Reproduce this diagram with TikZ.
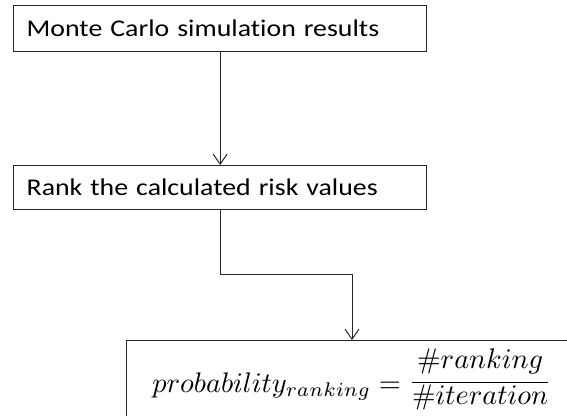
\documentclass[tikz,border=0pt]{standalone}
\usepackage{amsmath}
\usepackage[no-math]{fontspec}
\usepackage{graphicx}
\setmainfont{Carlito}[FakeStretch=1.16, Ligatures=NoCommon]
\usetikzlibrary{arrows.meta}

\tikzset{
  stepbox/.style={draw=black!85, line width=1.3pt, rectangle, anchor=north west,
    minimum width=413pt, text width=387pt, align=left, inner xsep=13pt,
    font=\fontsize{24}{28}\selectfont},
  flow/.style={draw=black!85, line width=1pt,
    -{Straight Barb[length=10pt,width=14pt,line width=1pt]}},
}

% fraction whose parts keep the size of the surrounding text
\newcommand\flatfrac[2]{%
  \fontdimen22\textfont2=3.33pt
  \fontdimen9\textfont2=8.3pt
  \fontdimen12\textfont2=4.33pt
  \genfrac{}{}{0.6pt}{1}{\textstyle #1}{\textstyle #2}}

\begin{document}
\begin{tikzpicture}[x=1pt,y=-1pt]
  \clip (0,0) rectangle (567,415);
  \fill[white] (0,0) rectangle (567,415);

  % process steps
  \node[stepbox, minimum height=46pt] (sim) at (13,5) {Monte Carlo simulation results};
  \node[stepbox, minimum height=44pt] (rank) at (13,165) {Rank the calculated risk values};

  % result box, running off the right and bottom edges
  \node[draw=black!85, line width=1.3pt, rectangle, anchor=north west,
        minimum width=480pt, minimum height=120pt] (prob) at (126,340) {};
  \node[anchor=base, inner sep=0pt] (formula) at (352,392)
    {\resizebox{399pt}{!}{$probability_{ranking}=\flatfrac{\#ranking}{\#iteration}$}};

  % connectors
  \coordinate (bend) at (352,274);
  \draw[flow] (sim.south) -- (rank.north);
  \draw[flow] (rank.south) |- (bend) -- (bend |- prob.north);
\end{tikzpicture}
\end{document}
